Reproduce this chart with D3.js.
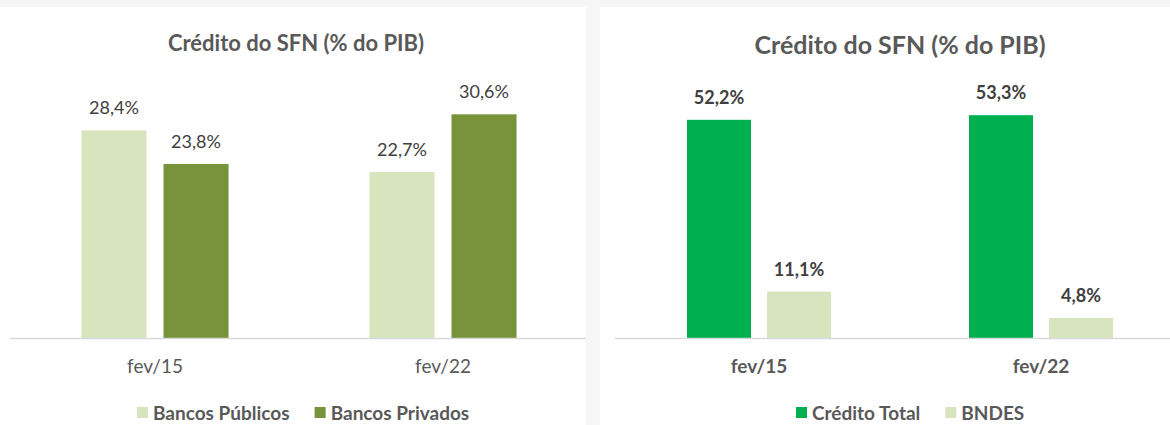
<!DOCTYPE html>
<html>
<head>
<meta charset="utf-8">
<script src="https://cdn.jsdelivr.net/npm/d3@7"></script>
<style>
  html, body { margin: 0; padding: 0; background: #f6f6f6; }
  svg { display: block; }
  text { font-family: Lato, 'Open Sans', sans-serif; fill: #595959; }
</style>
</head>
<body>
<svg id="chart" width="1170" height="425"></svg>
<script>
// Left chart: public vs private banks
const leftCategories = ['fev/15', 'fev/22'];
const leftSeries = ['Bancos Públicos', 'Bancos Privados'];
const leftValues = [
    [28.4, 23.8],   // fev/15
    [22.7, 30.6]    // fev/22
];

// Right chart: total credit vs BNDES
const rightCategories = ['fev/15', 'fev/22'];
const rightSeries = ['Crédito Total', 'BNDES'];
const rightValues = [
    [52.2, 11.1],
    [53.3, 4.8]
];

const title = 'Crédito do SFN (% do PIB)';

const locale = d3.formatLocale({ decimal: ',', thousands: '.', grouping: [3], currency: ['R$', ''] });
const fmt = v => locale.format('.1f')(v) + '%';

const svg = d3.select('#chart');

// panels
svg.append('rect').attr('x', 0).attr('y', 7).attr('width', 586).attr('height', 418).attr('fill', '#fff');
svg.append('rect').attr('x', 600).attr('y', 7).attr('width', 570).attr('height', 418).attr('fill', '#fff');

function drawPanel(opts) {
    const g = svg.append('g');
    const baseline = 338;

    const x0 = d3.scaleBand()
        .domain(opts.categories)
        .range(opts.xRange);

    const x1 = d3.scaleBand()
        .domain(opts.series)
        .range([0, x0.bandwidth()])
        .paddingInner(opts.pi)
        .paddingOuter(opts.po);

    const y = d3.scaleLinear()
        .domain(opts.yDomain)
        .range([baseline, baseline - opts.pxPerUnit * opts.yDomain[1]]);

    // title
    g.append('text')
        .attr('x', opts.titleX)
        .attr('y', opts.titleY)
        .attr('text-anchor', 'middle')
        .attr('font-weight', 'bold')
        .attr('font-size', opts.titleSize)
        .text(title);

    // bars
    const groups = g.selectAll('.grp')
        .data(opts.categories.map((c, i) => ({ cat: c, vals: opts.values[i] })))
        .join('g')
        .attr('transform', d => `translate(${x0(d.cat)},0)`);

    groups.selectAll('rect')
        .data(d => d.vals.map((v, j) => ({ s: opts.series[j], v })))
        .join('rect')
        .attr('x', d => x1(d.s))
        .attr('width', x1.bandwidth())
        .attr('y', d => y(d.v))
        .attr('height', d => baseline - y(d.v))
        .attr('fill', (d, j) => opts.colors[j]);

    groups.selectAll('text.val')
        .data(d => d.vals.map((v, j) => ({ s: opts.series[j], v })))
        .join('text')
        .attr('class', 'val')
        .attr('x', d => x1(d.s) + x1.bandwidth() / 2)
        .attr('y', d => y(d.v) - 16)
        .attr('text-anchor', 'middle')
        .attr('font-size', 18)
        .attr('font-weight', opts.bold ? 'bold' : 'normal')
        .style('fill', '#404040')
        .text(d => fmt(d.v));

    // axis
    const axis = g.append('g')
        .attr('transform', `translate(0,${baseline})`)
        .call(d3.axisBottom(x0).tickSize(0).tickPadding(22));
    axis.select('.domain')
        .attr('d', `M${opts.axisX[0]},0.5H${opts.axisX[1]}`)
        .attr('stroke', '#d9d9d9')
        .attr('stroke-width', 1.5);
    axis.selectAll('text')
        .attr('font-size', 19)
        .attr('font-family', null)
        .attr('font-weight', opts.bold ? 'bold' : 'normal')
        .style('fill', '#595959');

    // legend
    const leg = g.append('g').attr('transform', `translate(0,${opts.legendY})`);
    let lx = opts.legendX;
    opts.series.forEach((s, j) => {
        leg.append('rect')
            .attr('x', lx).attr('y', -13)
            .attr('width', 11).attr('height', 11)
            .attr('fill', opts.colors[j]);
        const t = leg.append('text')
            .attr('x', lx + 16).attr('y', 0)
            .attr('font-size', 19)
            .attr('font-weight', 'bold')
            .text(s);
        lx += 16 + t.node().getComputedTextLength() + opts.legendGap;
    });
}

drawPanel({
    categories: leftCategories,
    series: leftSeries,
    values: leftValues,
    colors: ['#d7e4bd', '#77933c'],
    xRange: [11, 587],
    pi: 17 / 82,
    po: 0.859,
    yDomain: [0, 35],
    pxPerUnit: 7.31,
    titleX: 296, titleY: 51, titleSize: 22,
    axisX: [10, 586],
    legendX: 137, legendY: 420, legendGap: 25,
    bold: false
});

drawPanel({
    categories: rightCategories,
    series: rightSeries,
    values: rightValues,
    colors: ['#00b050', '#d7e4bd'],
    xRange: [618, 1182],
    pi: 0.2,
    po: 0.8625,
    yDomain: [0, 60],
    pxPerUnit: 4.18,
    titleX: 900, titleY: 54, titleSize: 25,
    axisX: [615, 1170],
    legendX: 796, legendY: 420, legendGap: 25,
    bold: true
});
</script>
</body>
</html>
